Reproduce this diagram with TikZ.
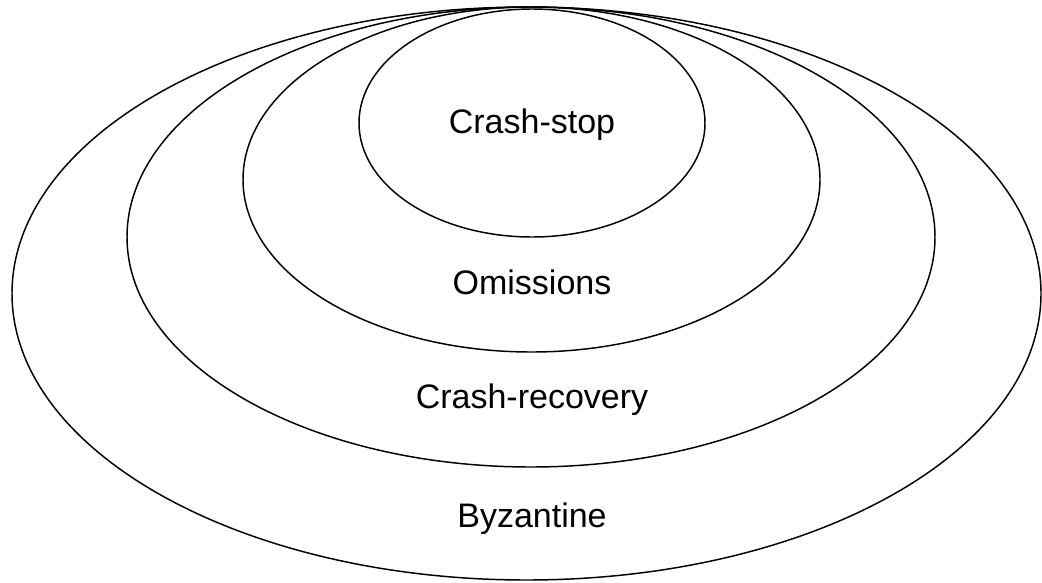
\documentclass[tikz,border=0pt]{standalone}
\usepackage{fontspec}
\setmainfont{Liberation Sans}
\usetikzlibrary{shapes.geometric}
\begin{document}
\begin{tikzpicture}[x=0.75pt,y=-0.75pt,
  ring/.style={draw=black,line width=1.1pt},
  lbl/.style={font=\fontsize{25.5}{30}\selectfont,inner sep=0pt,anchor=center}]
\useasboundingbox (0,0) rectangle (1042,582);
\draw[ring] (526.5,293.5) ellipse [x radius=514.5*0.75pt, y radius=286.5*0.75pt];
\draw[ring] (531,237) ellipse [x radius=404*0.75pt, y radius=230*0.75pt];
\draw[ring] (531.5,179.5) ellipse [x radius=288.5*0.75pt, y radius=172.5*0.75pt];
\draw[ring] (532,123) ellipse [x radius=173*0.75pt, y radius=114*0.75pt];
\node[lbl] (cs) at (532,125) {Crash-stop};
\node[lbl] (om) at (532,282) {Omissions};
\node[lbl] (cr) at (532,400) {Crash-recovery};
\node[lbl] (bz) at (532,519) {Byzantine};
\end{tikzpicture}
\end{document}
